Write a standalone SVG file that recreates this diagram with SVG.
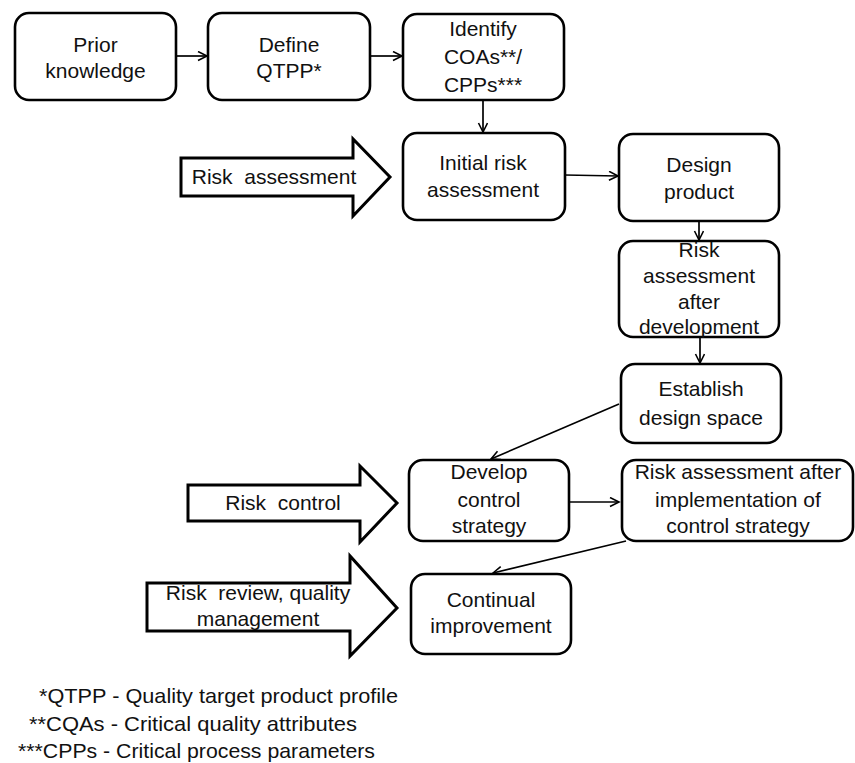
<svg xmlns="http://www.w3.org/2000/svg" width="855" height="763" viewBox="0 0 855 763">
<defs>
<marker id="ah" markerWidth="12" markerHeight="12" refX="10" refY="5" orient="auto" markerUnits="userSpaceOnUse">
<path d="M1,0.5 L10,5 L1,9.5" fill="none" stroke="#000" stroke-width="1.6"/>
</marker>
<style>
.box{fill:#fff;stroke:#000;stroke-width:2.6}
.big{fill:#fff;stroke:#000;stroke-width:3;stroke-linejoin:miter}
.t{font-family:"Liberation Sans",Arial,sans-serif;font-size:21px;fill:#111;text-anchor:middle;white-space:pre}
.f{font-family:"Liberation Sans",Arial,sans-serif;font-size:21px;fill:#111}
.c{fill:none;stroke:#000;stroke-width:1.7;marker-end:url(#ah)}
</style>
</defs>
<rect width="855" height="763" fill="#fff"/>
<g id="connectors">
<line class="c" x1="176" y1="56" x2="207" y2="56"/>
<line class="c" x1="370" y1="56" x2="402" y2="56"/>
<line class="c" x1="483" y1="100" x2="483" y2="132"/>
<line class="c" x1="565" y1="175" x2="618" y2="176"/>
<line class="c" x1="699" y1="221" x2="699" y2="240"/>
<line class="c" x1="700" y1="337" x2="700" y2="363"/>
<line class="c" x1="619" y1="404" x2="491" y2="459"/>
<line class="c" x1="569" y1="502" x2="619" y2="502"/>
<line class="c" x1="626" y1="541" x2="493" y2="573"/>
</g>
<g id="arrow-risk-assessment">
<path class="big" d="M181,158 L353,158 L353,139 L390,177 L353,216 L353,196 L181,196 Z"/>
<text class="t" x="274" y="184" xml:space="preserve">Risk  assessment</text>
</g>
<g id="arrow-risk-control">
<path class="big" d="M188,485 L360,485 L360,466 L397,503 L360,542 L360,521 L188,521 Z"/>
<text class="t" x="283" y="510" xml:space="preserve">Risk  control</text>
</g>
<g id="arrow-risk-review">
<path class="big" d="M147,583 L350,583 L350,556 L397,608 L350,656 L350,631 L147,631 Z"/>
<text class="t" x="258" y="600" xml:space="preserve">Risk  review, quality</text>
<text class="t" x="258" y="626">management</text>
</g>
<g id="prior-knowledge">
<rect class="box" x="15" y="13" width="161" height="87" rx="14"/>
<text class="t" x="95.5" y="52">Prior</text>
<text class="t" x="95.5" y="78">knowledge</text>
</g>
<g id="define-qtpp">
<rect class="box" x="208" y="13" width="162" height="87" rx="14"/>
<text class="t" x="289" y="52">Define</text>
<text class="t" x="289" y="78">QTPP*</text>
</g>
<g id="identify">
<rect class="box" x="403" y="14" width="161" height="86" rx="14"/>
<text class="t" x="483" y="36">Identify</text>
<text class="t" x="483" y="64">COAs**/</text>
<text class="t" x="483" y="92">CPPs***</text>
</g>
<g id="initial-risk">
<rect class="box" x="403" y="133" width="162" height="87" rx="14"/>
<text class="t" x="483" y="170">Initial risk</text>
<text class="t" x="483" y="197">assessment</text>
</g>
<g id="design-product">
<rect class="box" x="619" y="134" width="160" height="87" rx="14"/>
<text class="t" x="699" y="172">Design</text>
<text class="t" x="699" y="199">product</text>
</g>
<g id="risk-after-dev">
<rect class="box" x="619" y="241" width="160" height="96" rx="14"/>
<text class="t" x="699" y="257">Risk</text>
<text class="t" x="699" y="283">assessment</text>
<text class="t" x="699" y="309">after</text>
<text class="t" x="699" y="334">development</text>
</g>
<g id="design-space">
<rect class="box" x="621" y="364" width="160" height="79" rx="14"/>
<text class="t" x="701" y="396">Establish</text>
<text class="t" x="701" y="425">design space</text>
</g>
<g id="develop-control">
<rect class="box" x="409" y="460" width="160" height="81" rx="14"/>
<text class="t" x="489" y="479">Develop</text>
<text class="t" x="489" y="507">control</text>
<text class="t" x="489" y="533">strategy</text>
</g>
<g id="risk-after-impl">
<rect class="box" x="622" y="460" width="231" height="81" rx="14"/>
<text class="t" x="738" y="479">Risk assessment after</text>
<text class="t" x="738" y="507">implementation of</text>
<text class="t" x="738" y="533">control strategy</text>
</g>
<g id="continual-improvement">
<rect class="box" x="411" y="574" width="160" height="80" rx="14"/>
<text class="t" x="491" y="607">Continual</text>
<text class="t" x="491" y="633">improvement</text>
</g>
<g id="footnotes">
<text class="f" x="39" y="703" textLength="359" lengthAdjust="spacingAndGlyphs">*QTPP - Quality target product profile</text>
<text class="f" x="29" y="731" textLength="328" lengthAdjust="spacingAndGlyphs">**CQAs - Critical quality attributes</text>
<text class="f" x="18" y="758" textLength="357" lengthAdjust="spacingAndGlyphs">***CPPs - Critical process parameters</text>
</g>
</svg>
